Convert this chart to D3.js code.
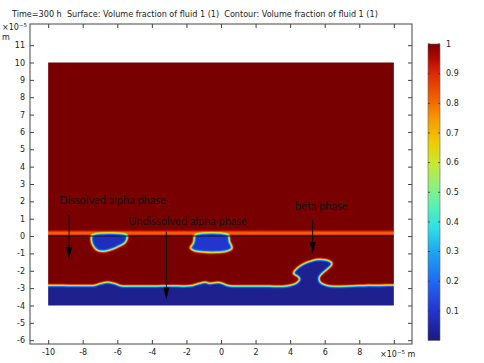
<!DOCTYPE html>
<html>
<head>
<meta charset="utf-8">
<script src="https://cdn.jsdelivr.net/npm/d3@7"></script>
<style>
  body { margin: 0; background: #fff; }
  text { font-family: "DejaVu Sans", sans-serif; fill: #222; }
  .note { font-family: Lato, "DejaVu Sans", sans-serif; fill: #111; }
</style>
</head>
<body>
<div id="chart"></div>
<script>
var W = 484, H = 363;

// ticks, in units of 1e-5 m
var xTicks = [-10, -8, -6, -4, -2, 0, 2, 4, 6, 8, 10];
var yTicks = [-6, -5, -4, -3, -2, -1, 0, 1, 2, 3, 4, 5, 6, 7, 8, 9, 10, 11];
var cbTicks = [0.1, 0.2, 0.3, 0.4, 0.5, 0.6, 0.7, 0.8, 0.9, 1];

// colour table
var cmapVals = [0, 0.05, 0.1, 0.2, 0.3, 0.38, 0.45, 0.52, 0.6, 0.67, 0.75, 0.82, 0.9, 0.95, 1];
var cmapCols = ["#1b1b78", "#1f26a6", "#2434cc", "#1f6af2", "#1ea6f0", "#2fdfe6", "#55f1b6",
                "#8ff07e", "#c9e82e", "#efcb00", "#f59800", "#ef5e00", "#dc2a06", "#b30a00", "#7a0000"];

// simulation domain
var domX = [-10, 10], domY = [-4, 10];

// fluid 1 volume fraction in each region
var matrixVal = 1, bandVal = 0.77, dissolvedVal = 0.08, undissolvedVal = 0.1, betaVal = 0.025;

// thin band just above the alpha line
var bandY = [0.08, 0.26];

// outlines (0.5 level) of the phases
var dissolvedBlob = [[-7.45, 0.04], [-7.5, -0.2], [-7.4, -0.55], [-7.15, -0.82], [-6.75, -0.88],
                     [-6.35, -0.78], [-5.95, -0.6], [-5.6, -0.42], [-5.45, -0.2], [-5.45, 0.04]];
var undissolvedBlob = [[-1.5, 0.04], [-1.55, -0.25], [-1.65, -0.5], [-1.78, -0.66], [-1.6, -0.82],
                       [-1.0, -0.92], [-0.3, -0.94], [0.3, -0.88], [0.64, -0.72], [0.6, -0.55],
                       [0.48, -0.3], [0.42, 0.04]];
var betaFront = [[-10.8, -2.85], [-10, -2.85], [-8, -2.86], [-7.3, -2.85], [-6.95, -2.74],
                 [-6.55, -2.66], [-6.18, -2.74], [-5.85, -2.86], [-5.5, -2.89], [-3, -2.88],
                 [-1.7, -2.86], [-1.25, -2.74], [-0.92, -2.66], [-0.62, -2.74], [-0.4, -2.71],
                 [-0.17, -2.68], [0.08, -2.74], [0.4, -2.86], [1, -2.89], [3.0, -2.9],
                 [3.41, -2.91], [3.99, -2.85], [4.39, -2.71], [4.57, -2.48], [4.45, -2.31],
                 [4.19, -2.16], [4.34, -1.93], [4.68, -1.67], [5.14, -1.47], [5.61, -1.35],
                 [6.07, -1.38], [6.36, -1.5], [6.42, -1.61], [6.18, -1.87], [5.84, -2.16],
                 [5.66, -2.42], [5.72, -2.65], [6.01, -2.82], [6.47, -2.9], [8, -2.86],
                 [10, -2.83], [10.8, -2.83]];
var betaBottom = -4.8;

// annotations: label, label position, arrow from, arrow to
var notes = ["Dissolved alpha phase", "Undissolved alpha phase", "beta phase"];
var notePos = [[-9.36, 1.84], [-5.36, 0.63], [4.28, 1.5]];
var arrowFrom = [[-8.79, 1.21], [-3.16, 0.25], [5.3, 0.92]];
var arrowTo = [[-8.79, -1.34], [-3.16, -3.65], [5.3, -1.04]];

var svg = d3.select("#chart").append("svg")
    .attr("width", W).attr("height", H);

var x = d3.scaleLinear().domain([-11.05, 11.05]).range([30, 412]);
var y = d3.scaleLinear().domain([-6.22, 12.22]).range([344, 24]);
var cb = d3.scaleLinear().domain([0, 1]).range([340.5, 44]);
var cmap = d3.scaleLinear().domain(cmapVals).range(cmapCols);

function gray(v) { return d3.rgb(v * 255, v * 255, v * 255).toString(); }

var defs = svg.append("defs");

// field is drawn in gray levels, smoothed, then mapped through the colour table
var filt = defs.append("filter").attr("id", "field")
    .attr("color-interpolation-filters", "sRGB");
filt.append("feGaussianBlur").attr("stdDeviation", 1.05);
var ct = filt.append("feComponentTransfer");
var samples = d3.range(0, 101).map(function(i) { return d3.rgb(cmap(i / 100)); });
ct.append("feFuncR").attr("type", "table")
  .attr("tableValues", samples.map(function(c) { return (c.r / 255).toFixed(3); }).join(" "));
ct.append("feFuncG").attr("type", "table")
  .attr("tableValues", samples.map(function(c) { return (c.g / 255).toFixed(3); }).join(" "));
ct.append("feFuncB").attr("type", "table")
  .attr("tableValues", samples.map(function(c) { return (c.b / 255).toFixed(3); }).join(" "));

defs.append("clipPath").attr("id", "dom").append("rect")
    .attr("x", x(domX[0])).attr("y", y(domY[1]))
    .attr("width", x(domX[1]) - x(domX[0]))
    .attr("height", y(domY[0]) - y(domY[1]));

var grad = defs.append("linearGradient").attr("id", "cbar")
    .attr("x1", 0).attr("y1", 1).attr("x2", 0).attr("y2", 0);
grad.selectAll("stop").data(cmapVals).enter().append("stop")
    .attr("offset", function(d) { return d; })
    .attr("stop-color", function(d, i) { return cmapCols[i]; });

// ---- the field
var clip = svg.append("g").attr("clip-path", "url(#dom)");
var field = clip.append("g").attr("filter", "url(#field)");

field.append("rect")
    .attr("x", x(domX[0] - 1)).attr("y", y(domY[1] + 1))
    .attr("width", x(domX[1] + 1) - x(domX[0] - 1))
    .attr("height", y(domY[0] - 1) - y(domY[1] + 1))
    .attr("fill", gray(matrixVal));

field.append("rect")
    .attr("x", x(domX[0] - 1)).attr("y", y(bandY[1]))
    .attr("width", x(domX[1] + 1) - x(domX[0] - 1))
    .attr("height", y(bandY[0]) - y(bandY[1]))
    .attr("fill", gray(bandVal));

var blobLine = d3.line().x(function(d) { return x(d[0]); }).y(function(d) { return y(d[1]); })
    .curve(d3.curveCatmullRomClosed.alpha(0.5));
var frontLine = d3.line().x(function(d) { return x(d[0]); }).y(function(d) { return y(d[1]); })
    .curve(d3.curveCatmullRom.alpha(0.5));

field.append("path").attr("d", blobLine(dissolvedBlob)).attr("fill", gray(dissolvedVal));
field.append("path").attr("d", blobLine(undissolvedBlob)).attr("fill", gray(undissolvedVal));

var last = betaFront[betaFront.length - 1], first = betaFront[0];
field.append("path")
    .attr("d", frontLine(betaFront) + "L" + x(last[0]) + "," + y(betaBottom) +
               "L" + x(first[0]) + "," + y(betaBottom) + "Z")
    .attr("fill", gray(betaVal));

// alpha line contour
clip.append("line")
    .attr("x1", x(domX[0])).attr("x2", x(domX[1]))
    .attr("y1", y(0)).attr("y2", y(0))
    .attr("stroke", "#111").attr("stroke-width", 0.9);

// ---- annotations
var ann = svg.append("g");
notes.forEach(function(t, i) {
  var tx = x(arrowTo[i][0]), ty = y(arrowTo[i][1]);
  ann.append("line")
      .attr("x1", x(arrowFrom[i][0])).attr("y1", y(arrowFrom[i][1]))
      .attr("x2", tx).attr("y2", ty - 11)
      .attr("stroke", "#000").attr("stroke-width", 0.9);
  ann.append("path")
      .attr("d", "M" + (tx - 3) + "," + (ty - 12) + "L" + (tx + 3) + "," + (ty - 12) +
                 "L" + tx + "," + ty + "Z")
      .attr("fill", "#000");
  ann.append("text").attr("class", "note")
      .attr("x", x(notePos[i][0])).attr("y", y(notePos[i][1]))
      .style("font-size", "11px")
      .text(t);
});

// ---- axes
var axCol = "#444";
var fmt = function(d) { return d === 10 ? "" : String(d); };

var gx = svg.append("g").attr("transform", "translate(0," + y.range()[0] + ")")
    .call(d3.axisBottom(x).tickValues(xTicks).tickSizeInner(-4).tickSizeOuter(0)
      .tickPadding(5).tickFormat(fmt));
var gxt = svg.append("g").attr("transform", "translate(0," + y.range()[1] + ")")
    .call(d3.axisTop(x).tickValues(xTicks).tickSizeInner(-4).tickSizeOuter(0).tickFormat(""));
var gy = svg.append("g").attr("transform", "translate(" + x.range()[0] + ",0)")
    .call(d3.axisLeft(y).tickValues(yTicks).tickSizeInner(-4).tickSizeOuter(0)
      .tickPadding(5).tickFormat(function(d) { return String(d); }));
var gyr = svg.append("g").attr("transform", "translate(" + x.range()[1] + ",0)")
    .call(d3.axisRight(y).tickValues(yTicks).tickSizeInner(-4).tickSizeOuter(0).tickFormat(""));

[gx, gxt, gy, gyr].forEach(function(g) {
  g.select(".domain").remove();
  g.selectAll("line").attr("stroke", axCol);
  g.selectAll("text").style("font-family", "DejaVu Sans").style("font-size", "8px").attr("fill", "#222");
});

svg.append("rect")
    .attr("x", x.range()[0]).attr("y", y.range()[1])
    .attr("width", x.range()[1] - x.range()[0])
    .attr("height", y.range()[0] - y.range()[1])
    .attr("fill", "none").attr("stroke", axCol).attr("stroke-width", 1);

// unit labels
var ux = svg.append("text").attr("x", 380).attr("y", 357).style("font-size", "8px");
ux.append("tspan").text("\u00d710");
ux.append("tspan").attr("dy", -3.5).style("font-size", "5.5px").text("\u22125");
ux.append("tspan").attr("dy", 3.5).text(" m");

var uy = svg.append("text").attr("x", 2).attr("y", 30).style("font-size", "8px");
uy.append("tspan").text("\u00d710");
uy.append("tspan").attr("dy", -3.5).style("font-size", "5.5px").text("\u22125");
svg.append("text").attr("x", 2).attr("y", 40).style("font-size", "8px").text("m");

// title
svg.append("text").attr("x", 12).attr("y", 17)
    .style("font-size", "8.1px").style("white-space", "pre")
    .text("Time=300 h  Surface: Volume fraction of fluid 1 (1)  Contour: Volume fraction of fluid 1 (1)");

// ---- colour bar
var cbx = 428, cbw = 12;
svg.append("rect")
    .attr("x", cbx).attr("y", cb(1))
    .attr("width", cbw).attr("height", cb(0) - cb(1))
    .attr("fill", "url(#cbar)").attr("stroke", "#666").attr("stroke-width", 0.6);
var cbg = svg.append("g");
cbg.selectAll("line.l").data(cbTicks).enter().append("line")
    .attr("x1", cbx).attr("x2", cbx + 2)
    .attr("y1", function(d) { return cb(d); }).attr("y2", function(d) { return cb(d); })
    .attr("stroke", "#333").attr("stroke-width", 0.8);
cbg.selectAll("line.r").data(cbTicks).enter().append("line")
    .attr("x1", cbx + cbw - 2).attr("x2", cbx + cbw)
    .attr("y1", function(d) { return cb(d); }).attr("y2", function(d) { return cb(d); })
    .attr("stroke", "#333").attr("stroke-width", 0.8);
cbg.selectAll("text").data(cbTicks).enter().append("text")
    .attr("x", 446).attr("y", function(d) { return cb(d); }).attr("dy", "0.35em")
    .style("font-size", "8px")
    .text(function(d) { return String(d); });
</script>
</body>
</html>
